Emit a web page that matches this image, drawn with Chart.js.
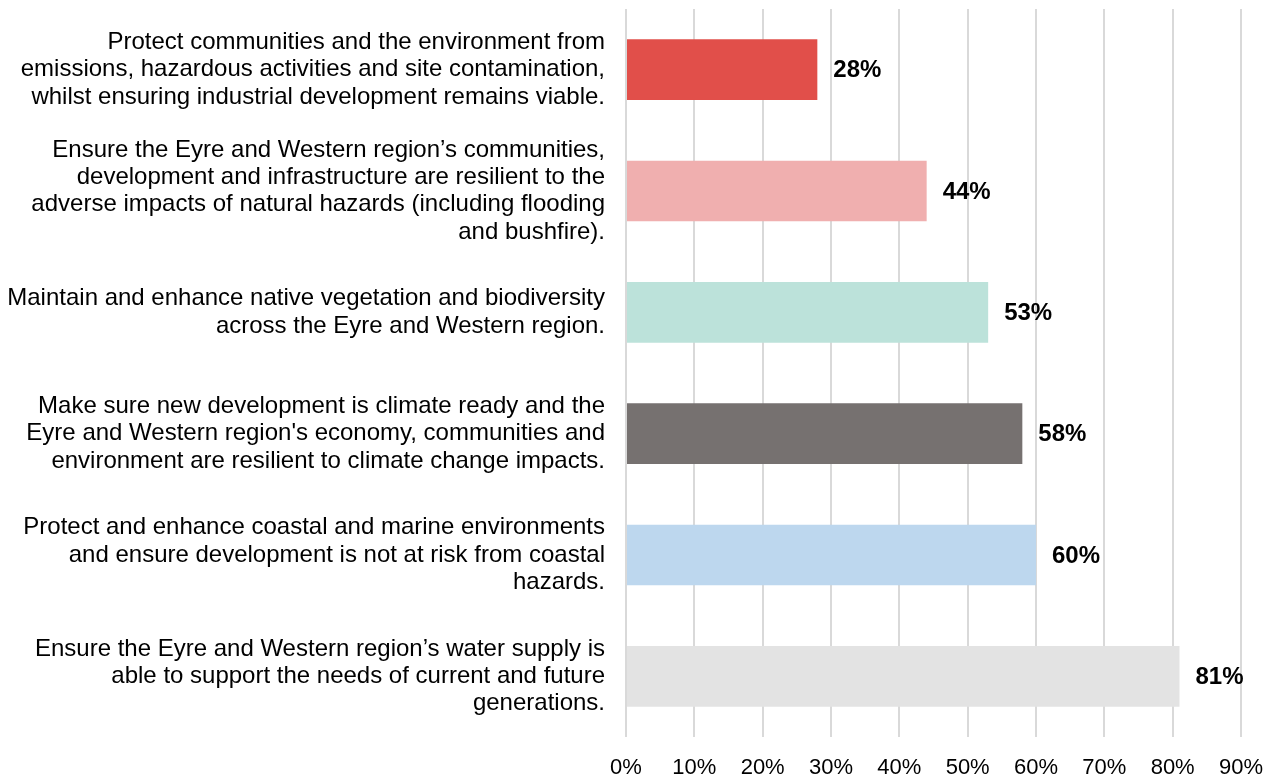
<!DOCTYPE html>
<html>
<head>
<meta charset="utf-8">
<script src="https://cdn.jsdelivr.net/npm/chart.js@4/dist/chart.umd.min.js"></script>
<style>
    html, body { margin: 0; padding: 0; background: #ffffff; }
    #wrap { width: 1267px; height: 776px; position: relative; }
</style>
</head>
<body>
<div id="wrap"><canvas id="chart"></canvas></div>
<script>
const categories = [
    ["Protect communities and the environment from", "emissions, hazardous activities and site contamination,", "whilst ensuring industrial development remains viable."],
    ["Ensure the Eyre and Western region\u2019s communities,", "development and infrastructure are resilient to the", "adverse impacts of natural hazards (including flooding", "and bushfire)."],
    ["Maintain and enhance native vegetation and biodiversity", "across the Eyre and Western region."],
    ["Make sure new development is climate ready and the", "Eyre and Western region's economy, communities and", "environment are resilient to climate change impacts."],
    ["Protect and enhance coastal and marine environments", "and ensure development is not at risk from coastal", "hazards."],
    ["Ensure the Eyre and Western region\u2019s water supply is", "able to support the needs of current and future", "generations."]
];
const values = [28, 44, 53, 58, 60, 81];
const barColors = ['#E14F4A', '#F0AFAF', '#BCE2DA', '#767170', '#BDD7EE', '#E3E3E3'];
const xTicks = [0, 10, 20, 30, 40, 50, 60, 70, 80, 90];

const FONT = "'Liberation Sans', Arial, sans-serif";

// draws the bold value labels to the right of each bar
const valueLabels = {
    id: 'valueLabels',
    afterDatasetsDraw(chart) {
        const ctx = chart.ctx;
        const meta = chart.getDatasetMeta(0);
        ctx.save();
        ctx.font = 'bold 24px ' + FONT;
        ctx.fillStyle = '#000000';
        ctx.textAlign = 'left';
        ctx.textBaseline = 'middle';
        meta.data.forEach((bar, i) => {
            ctx.fillText(values[i] + '%', bar.x + 16, bar.y + 1);
        });
        ctx.restore();
    }
};

new Chart(document.getElementById('chart').getContext('2d'), {
    type: 'bar',
    data: {
        labels: categories,
        datasets: [{
            data: values,
            backgroundColor: barColors,
            borderWidth: 0,
            barPercentage: 0.5,
            categoryPercentage: 1
        }]
    },
    plugins: [valueLabels],
    options: {
        indexAxis: 'y',
        responsive: true,
        maintainAspectRatio: false,
        animation: false,
        layout: {
            padding: { top: 9, right: 26, bottom: 0, left: 0 }
        },
        scales: {
            x: {
                min: 0,
                max: 90,
                afterBuildTicks: (scale) => {
                    scale.ticks = xTicks.map(v => ({ value: v }));
                },
                afterFit: (scale) => {
                    scale.height = 39;
                    scale.paddingLeft = 0;
                    scale.paddingRight = 0;
                },
                grid: {
                    color: '#D9D9D9',
                    lineWidth: 2,
                    drawTicks: false
                },
                border: { display: false },
                ticks: {
                    padding: 18,
                    color: '#000000',
                    font: { family: FONT, size: 22 },
                    maxRotation: 0,
                    callback: (v) => v + '%'
                }
            },
            y: {
                afterFit: (scale) => {
                    scale.width = 626;
                    scale.paddingTop = 0;
                    scale.paddingBottom = 0;
                },
                grid: { display: false, drawTicks: false },
                border: { display: false },
                ticks: {
                    padding: 21,
                    color: '#000000',
                    font: { family: FONT, size: 24, lineHeight: 1.14 }
                }
            }
        },
        plugins: {
            legend: { display: false },
            tooltip: { enabled: false },
            title: { display: false }
        }
    }
});
</script>
</body>
</html>
